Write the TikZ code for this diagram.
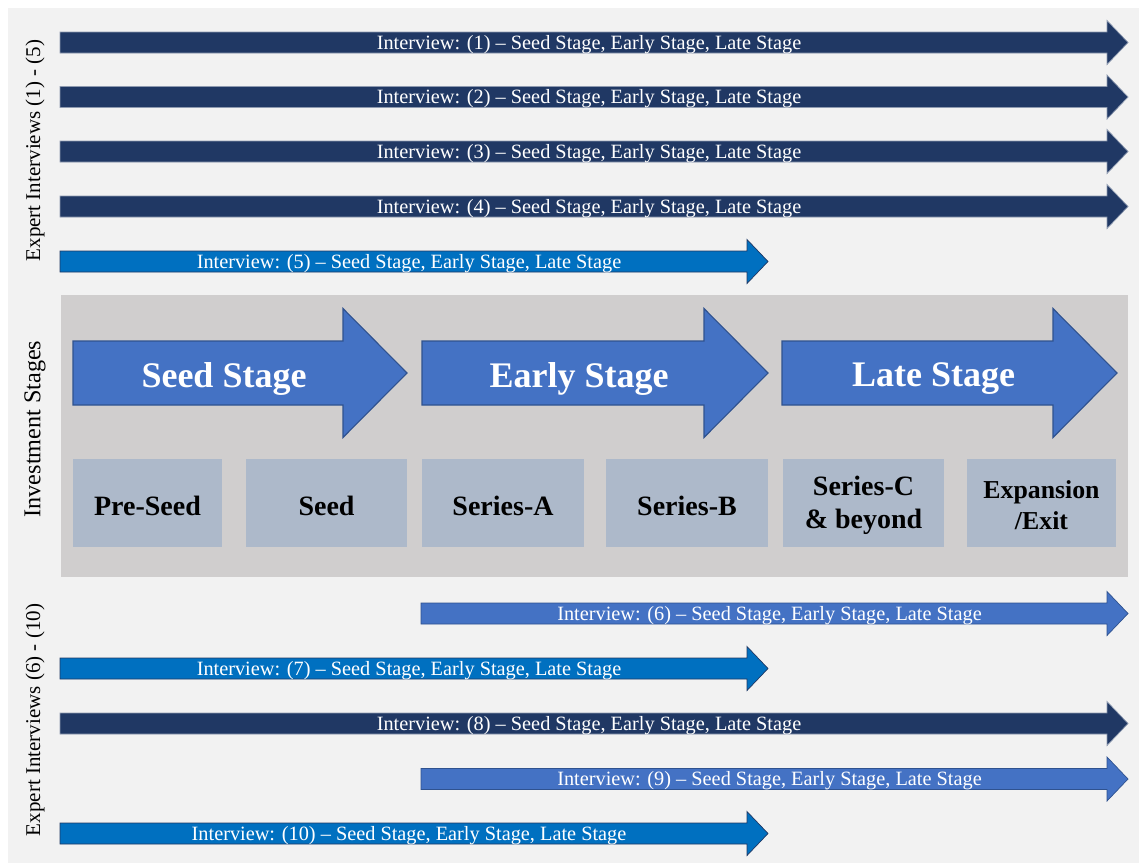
\documentclass[tikz,border=0pt]{standalone}
\usepackage{fontspec}
\setmainfont{Liberation Serif}
\definecolor{navy}{HTML}{203864}
\definecolor{brightblue}{HTML}{0070C0}
\definecolor{midblue}{HTML}{4472C4}
\definecolor{outl}{HTML}{2F528F}
\definecolor{panelgray}{HTML}{D0CECE}
\definecolor{boxgray}{HTML}{ADB9CA}
\definecolor{bggray}{HTML}{F2F2F2}
\definecolor{navyedge}{HTML}{8E9AB0}
\tikzset{
  navyarrow/.style={fill=navy, draw=navyedge, line width=0.7pt},
  brightarrow/.style={fill=brightblue, draw=navy, line width=0.7pt},
  midarrow/.style={fill=midblue, draw=outl, line width=0.7pt},
  stagearrow/.style={fill=midblue, draw=outl, line width=1.1pt},
  ivtext/.style={text=white, font=\fontsize{20.3}{24}\selectfont, inner sep=0pt},
  stagetext/.style={text=white, font=\fontsize{36}{40}\selectfont\bfseries, inner sep=0pt},
  boxtext/.style={font=\fontsize{28}{33}\selectfont\bfseries, align=center, inner sep=0pt},
  sidelabel/.style={rotate=90, inner sep=0pt}
}
% name, x start, x tip, y centre, style, text
\newcommand\ivarrow[6]{%
  \draw[#5] (#2,#4-10.5) -- (#3-21,#4-10.5) -- (#3-21,#4-22) -- (#3,#4)
    -- (#3-21,#4+22) -- (#3-21,#4+10.5) -- (#2,#4+10.5) -- cycle;
  \node[ivtext] (#1) at ({(#2+#3)/2-5},#4+1.8) {#6};
}
% name, x start, x tip, text
\newcommand\stagearrowdraw[4]{%
  \draw[stagearrow] (#2,341) -- (#3-64,341) -- (#3-64,308.5) -- (#3,373)
    -- (#3-64,437.5) -- (#3-64,405) -- (#2,405) -- cycle;
  \node[stagetext] (#1) at ({(#2+#3)/2-16},378.5) {#4};
}
% name, x1, x2, text
\newcommand\roundbox[4]{%
  \fill[boxgray] (#2,459) rectangle (#3,547);
  \node[boxtext] (#1) at ({(#2+#3)/2},505.5) {#4};
}
\begin{document}
\begin{tikzpicture}[x=1pt,y=-1pt]
\useasboundingbox (0,0) rectangle (1139,863);
\fill[white] (0,0) rectangle (1139,863);
\fill[bggray] (8,8) rectangle (1139,863);
\fill[panelgray] (61,295) rectangle (1128,577);

% side labels
\node[sidelabel, font=\fontsize{21}{24}\selectfont] (lab1) at (35,150.5) {Expert Interviews (1) - (5)};
\node[sidelabel, font=\fontsize{24.2}{28}\selectfont] (lab2) at (35,429) {Investment Stages};
\node[sidelabel, font=\fontsize{21}{24}\selectfont] (lab3) at (35,720) {Expert Interviews (6) - (10)};

% top interview arrows
\ivarrow{iv1}{60}{1128}{42.5}{navyarrow}{Interview: (1) -- Seed Stage, Early Stage, Late Stage}
\ivarrow{iv2}{60}{1128}{97}{navyarrow}{Interview: (2) -- Seed Stage, Early Stage, Late Stage}
\ivarrow{iv3}{60}{1128}{151.5}{navyarrow}{Interview: (3) -- Seed Stage, Early Stage, Late Stage}
\ivarrow{iv4}{60}{1128}{206.5}{navyarrow}{Interview: (4) -- Seed Stage, Early Stage, Late Stage}
\ivarrow{iv5}{60}{768}{261.5}{brightarrow}{Interview: (5) -- Seed Stage, Early Stage, Late Stage}

% stage arrows
\stagearrowdraw{seed}{73}{407}{Seed Stage}
\stagearrowdraw{early}{422}{768}{Early Stage}
\stagearrowdraw{late}{782}{1117}{Late Stage}

% round boxes
\roundbox{preseed}{73}{222}{Pre-Seed}
\roundbox{seedr}{246}{407}{Seed}
\roundbox{sera}{422}{584}{Series-A}
\roundbox{serb}{606}{768}{Series-B}
\roundbox{serc}{783}{944}{Series-C\\\& beyond}
\fill[boxgray] (967,459) rectangle (1116,547);
\node[font=\fontsize{25.8}{31}\selectfont\bfseries, align=center, inner sep=0pt] (exit) at (1041.5,505) {Expansion\\/Exit};

% bottom interview arrows
\ivarrow{iv6}{421}{1128}{613.5}{midarrow}{Interview: (6) -- Seed Stage, Early Stage, Late Stage}
\ivarrow{iv7}{60}{768}{668.5}{brightarrow}{Interview: (7) -- Seed Stage, Early Stage, Late Stage}
\ivarrow{iv8}{60}{1128}{723.5}{navyarrow}{Interview: (8) -- Seed Stage, Early Stage, Late Stage}
\ivarrow{iv9}{421}{1128}{779}{midarrow}{Interview: (9) -- Seed Stage, Early Stage, Late Stage}
\ivarrow{iv10}{60}{768}{833.5}{brightarrow}{Interview: (10) -- Seed Stage, Early Stage, Late Stage}
\end{tikzpicture}
\end{document}
